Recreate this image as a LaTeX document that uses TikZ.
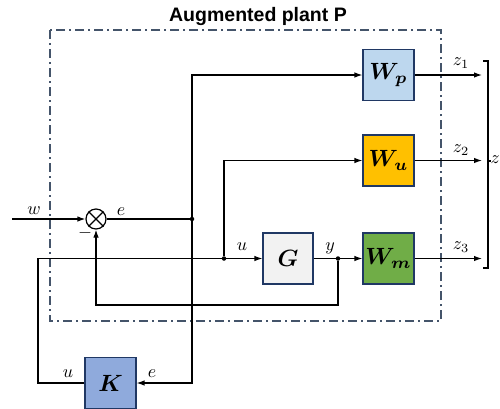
\documentclass[tikz,border=0pt]{standalone}
\usepackage{fontspec}
\usepackage{amsmath,bm,graphicx}
\newfontfamily\titlefont{Liberation Sans}
\usetikzlibrary{arrows.meta}
\definecolor{frameC}{HTML}{44546A}
\definecolor{edgeC}{HTML}{203864}
\definecolor{wpC}{HTML}{BDD7EE}
\definecolor{wuC}{HTML}{FFC000}
\definecolor{wmC}{HTML}{70AD47}
\definecolor{gC}{HTML}{F2F2F2}
\definecolor{kC}{HTML}{8FAADC}
\newcommand\blktxt[1]{\scalebox{2.35}{$\bm{#1}$}}
\newcommand\lbltxt[1]{\scalebox{1.8}{$#1$}}
\tikzset{
  blk/.style={draw=edgeC, line width=1.1pt, minimum width=51pt, minimum height=51pt, inner sep=0pt},
  sig/.style={line width=1.2pt, black},
  arr/.style={sig, -{Latex[length=8pt,width=5.5pt]}},
  lab/.style={inner sep=0pt},
  dot/.style={circle, fill=black, inner sep=0pt, minimum size=4.5pt},
  frame/.style={draw=frameC, line width=1.4pt, dash pattern=on 9pt off 4pt on 2pt off 4pt}
}
\begin{document}
\begin{tikzpicture}[x=1pt,y=-1pt]
\useasboundingbox (0,0) rectangle (500,408);
% title and frame
\node[font=\titlefont\bfseries\fontsize{19.5}{22}\selectfont] (title) at (258,16) {Augmented plant P};
\draw[frame] (50,30) rectangle (441,321);
% blocks
\node[blk, fill=wpC] (Wp) at (388.5,75) {\blktxt{W_p}};
\node[blk, fill=wuC] (Wu) at (388.5,160.5) {\blktxt{W_u}};
\node[blk, fill=wmC] (Wm) at (388.5,258.5) {\blktxt{W_m}};
\node[blk, fill=gC, minimum width=50pt] (G) at (288,258.5) {\blktxt{G}};
\node[blk, fill=kC] (K) at (110.5,383) {\blktxt{K}};
% summing junction
\node[circle, draw, line width=1.2pt, minimum size=20pt, inner sep=0pt] (S) at (96,219) {};
\draw[sig] (S.north east) -- (S.south west);
\draw[sig] (S.north west) -- (S.south east);
% coordinates
\coordinate (win) at (12,219);
\node[dot] (je) at (192,219) {};
\coordinate (ctop) at (192,75);
\coordinate (cke) at (192,383);
\coordinate (cku) at (38,383);
\coordinate (cul) at (38,258.5);
\node[dot] (ju) at (224,258.5) {};
\coordinate (cuu) at (224,160.5);
\node[dot] (jy) at (338,258.5) {};
\coordinate (cyd) at (338,305);
\coordinate (cyl) at (96,305);
\coordinate (z1e) at (482,75);
\coordinate (z2e) at (482,160.5);
\coordinate (z3e) at (482,258.5);
% connections
\draw[arr] (win) -- (S);
\draw[sig] (S) -- (je);
\draw[arr] (je) -- (ctop) -- (Wp);
\draw[arr] (je) -- (cke) -- (K);
\draw[sig] (K) -- (cku) -- (cul) -- (ju);
\draw[arr] (ju) -- (G);
\draw[arr] (ju) -- (cuu) -- (Wu);
\draw[sig] (G) -- (jy);
\draw[arr] (jy) -- (Wm);
\draw[arr] (jy) -- (cyd) -- (cyl) -- (S);
\draw[arr] (Wp) -- (z1e);
\draw[arr] (Wu) -- (z2e);
\draw[arr] (Wm) -- (z3e);
% bracket
\draw[line width=1.1pt] (483,61) -- (488,61) -- (488,268) -- (483,268);
\draw[line width=1.1pt] (488,161) -- (491,161);
% labels
\node[lab] (lw) at (34,211) {\lbltxt{w}};
\node[lab] (le) at (121,212) {\lbltxt{e}};
\node[lab] (lm) at (85,233) {\lbltxt{-}};
\node[lab] (lu) at (242,247) {\lbltxt{u}};
\node[lab] (ly) at (330,248) {\lbltxt{y}};
\node[lab] (lz1) at (461,63) {\lbltxt{z_1}};
\node[lab] (lz2) at (461,150) {\lbltxt{z_2}};
\node[lab] (lz3) at (461,247) {\lbltxt{z_3}};
\node[lab, anchor=east] (lz) at (500,160) {\lbltxt{z}};
\node[lab] (lku) at (68,374) {\lbltxt{u}};
\node[lab] (lke) at (152,374) {\lbltxt{e}};
\end{tikzpicture}
\end{document}
